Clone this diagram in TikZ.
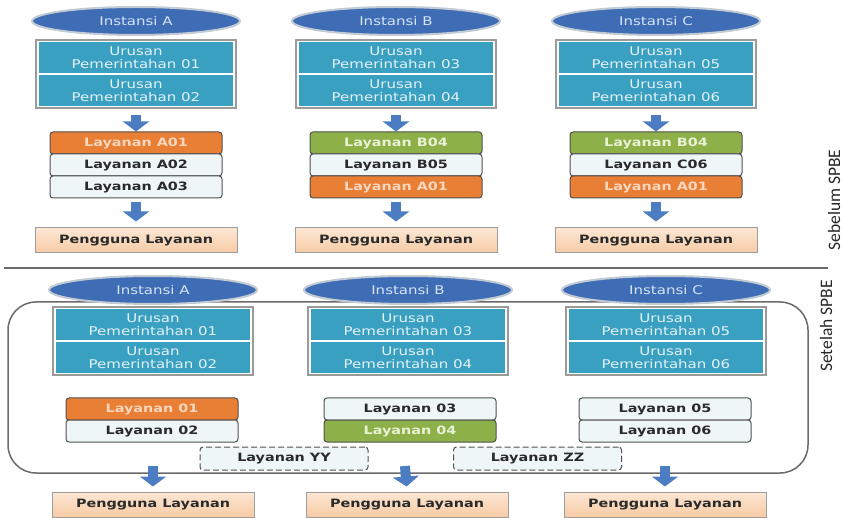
\documentclass[tikz,border=0pt]{standalone}
\usepackage{fontspec}
\setmainfont{DejaVu Sans}[FakeStretch=1.25]
\newfontfamily\sidefont{Carlito}
\usetikzlibrary{shapes.geometric,arrows.meta}
\definecolor{instblue}{HTML}{3F6DB5}
\definecolor{instedge}{HTML}{C2CAD4}
\definecolor{insttext}{HTML}{D5E3F5}
\definecolor{urteal}{HTML}{3AA0C2}
\definecolor{urtext}{HTML}{E2F2F6}
\definecolor{framegray}{HTML}{9A9A9A}
\definecolor{layorange}{HTML}{E97E35}
\definecolor{orangetext}{HTML}{F9D7BF}
\definecolor{laygreen}{HTML}{8DB048}
\definecolor{greentext}{HTML}{E8F2D6}
\definecolor{laylight}{HTML}{EEF6F7}
\definecolor{laytext}{HTML}{2A2A2A}
\definecolor{laydraw}{HTML}{505050}
\definecolor{pengtop}{HTML}{FCE6D3}
\definecolor{pengbot}{HTML}{F7CBA5}
\definecolor{pengdraw}{HTML}{9E9E9E}
\definecolor{arrowblue}{HTML}{4C7DC2}
\definecolor{linegray}{HTML}{6A6A6A}
\tikzset{
  inst/.style={ellipse, fill=instblue, draw=instedge, line width=2pt, minimum width=208pt, minimum height=28pt, inner sep=0pt, text=insttext, font=\fontsize{12}{13}\selectfont},
  urframe/.style={rectangle, draw=framegray, line width=1.5pt, fill=white, minimum width=200pt, minimum height=68pt, inner sep=0pt},
  urbox/.style={rectangle, fill=urteal, minimum width=194pt, minimum height=31pt, inner sep=0pt, align=center, text=urtext, font=\fontsize{12}{13}\selectfont},
  lay/.style={rectangle, rounded corners=3pt, draw=laydraw, line width=1pt, minimum width=172pt, minimum height=22pt, inner sep=0pt, font=\bfseries\fontsize{11.5}{12}\selectfont},
  layO/.style={lay, fill=layorange, text=orangetext},
  layG/.style={lay, fill=laygreen, text=greentext},
  layL/.style={lay, fill=laylight, text=laytext},
  layD/.style={lay, dashed, dash pattern=on 6pt off 3pt, fill=laylight, text=laytext, minimum width=168pt, minimum height=23pt},
  peng/.style={rectangle, draw=pengdraw, line width=1pt, top color=pengtop, bottom color=pengbot, minimum width=202pt, minimum height=25pt, inner sep=0pt, text=laytext, font=\bfseries\fontsize{11.5}{12}\selectfont},
  blockarr/.style={draw=arrowblue, line width=10pt, -{Triangle[width=26pt,length=10pt]}},
  bigframe/.style={rectangle, draw=linegray, line width=1.5pt, rounded corners=28pt, minimum width=800pt, minimum height=171pt, inner sep=0pt},
  side/.style={rotate=90, font=\sidefont\fontsize{17.5}{18}\selectfont, text=black!85},
}
\begin{document}
\begin{tikzpicture}[x=1pt,y=-1pt]
\useasboundingbox (0,0) rectangle (846,518);
% ---------- Sebelum SPBE ----------
\foreach \c/\n in {136/A,396/B,656/C}{
  \node[urframe] (f\n) at (\c,74) {};
}
\node[inst] (iA) at (136,21) {Instansi A};
\node[inst] (iB) at (396,21) {Instansi B};
\node[inst] (iC) at (656,21) {Instansi C};
\node[urbox] (uA1) at (136,57.5) {Urusan\\Pemerintahan 01};
\node[urbox] (uA2) at (136,90.5) {Urusan\\Pemerintahan 02};
\node[urbox] (uB1) at (396,57.5) {Urusan\\Pemerintahan 03};
\node[urbox] (uB2) at (396,90.5) {Urusan\\Pemerintahan 04};
\node[urbox] (uC1) at (656,57.5) {Urusan\\Pemerintahan 05};
\node[urbox] (uC2) at (656,90.5) {Urusan\\Pemerintahan 06};
\node[layO] (lA1) at (136,143) {Layanan A01};
\node[layL] (lA2) at (136,165) {Layanan A02};
\node[layL] (lA3) at (136,187) {Layanan A03};
\node[layG] (lB1) at (396,143) {Layanan B04};
\node[layL] (lB2) at (396,165) {Layanan B05};
\node[layO] (lB3) at (396,187) {Layanan A01};
\node[layG] (lC1) at (656,143) {Layanan B04};
\node[layL] (lC2) at (656,165) {Layanan C06};
\node[layO] (lC3) at (656,187) {Layanan A01};
\node[peng] (pA) at (136,240.5) {Pengguna Layanan};
\node[peng] (pB) at (396,240.5) {Pengguna Layanan};
\node[peng] (pC) at (656,240.5) {Pengguna Layanan};
\draw[blockarr, shorten <=6pt] (fA.south) -- (lA1.north);
\draw[blockarr, shorten <=6pt] (fB.south) -- (lB1.north);
\draw[blockarr, shorten <=6pt] (fC.south) -- (lC1.north);
\draw[blockarr, shorten <=4pt, shorten >=6pt] (lA3.south) -- (pA.north);
\draw[blockarr, shorten <=4pt, shorten >=6pt] (lB3.south) -- (pB.north);
\draw[blockarr, shorten <=4pt, shorten >=6pt] (lC3.south) -- (pC.north);
\node[side] (sebelum) at (834,200) {Sebelum SPBE};
% separator
\coordinate (sepL) at (4,268);
\coordinate (sepR) at (828,268);
\draw[linegray, line width=1.5pt] (sepL) -- (sepR);
% ---------- Setelah SPBE ----------
\node[bigframe] (big) at (408,387.5) {};
\foreach \c/\n in {153/A,408/B,666/C}{
  \node[urframe] (g\n) at (\c,341) {};
}
\node[inst] (jA) at (153,290) {Instansi A};
\node[inst] (jB) at (408,290) {Instansi B};
\node[inst] (jC) at (666,290) {Instansi C};
\node[urbox] (vA1) at (153,324.5) {Urusan\\Pemerintahan 01};
\node[urbox] (vA2) at (153,357.5) {Urusan\\Pemerintahan 02};
\node[urbox] (vB1) at (408,324.5) {Urusan\\Pemerintahan 03};
\node[urbox] (vB2) at (408,357.5) {Urusan\\Pemerintahan 04};
\node[urbox] (vC1) at (666,324.5) {Urusan\\Pemerintahan 05};
\node[urbox] (vC2) at (666,357.5) {Urusan\\Pemerintahan 06};
\node[layO] (mA1) at (152,409) {Layanan 01};
\node[layL] (mA2) at (152,431) {Layanan 02};
\node[layL] (mB1) at (410,409) {Layanan 03};
\node[layG] (mB2) at (410,431) {Layanan 04};
\node[layL] (mC1) at (665,409) {Layanan 05};
\node[layL] (mC2) at (665,431) {Layanan 06};
\node[layD] (yy) at (284,458.5) {Layanan YY};
\node[layD] (zz) at (537.5,458.5) {Layanan ZZ};
\node[peng] (qA) at (153,504.5) {Pengguna Layanan};
\node[peng] (qB) at (407,504.5) {Pengguna Layanan};
\node[peng] (qC) at (665,504.5) {Pengguna Layanan};
\coordinate (oA) at (153,466);
\coordinate (oB) at (405,466);
\coordinate (oC) at (665,466);
\draw[blockarr, shorten >=5pt] (oA) -- (qA.north);
\draw[blockarr, shorten >=5pt] (oB) -- (qB.north);
\draw[blockarr, shorten >=5pt] (oC) -- (qC.north);
\node[side] (setelah) at (826,326) {Setelah SPBE};
\end{tikzpicture}
\end{document}
